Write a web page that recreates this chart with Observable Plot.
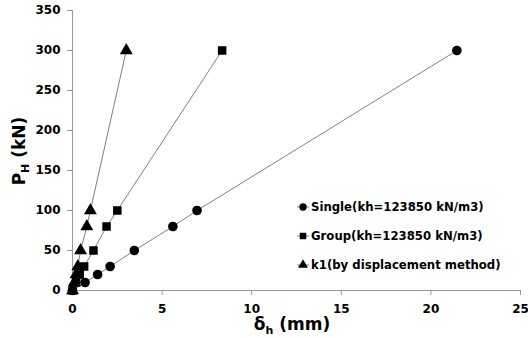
<!DOCTYPE html>
<html>
<head>
<meta charset="utf-8">
<script src="https://cdn.jsdelivr.net/npm/d3@7"></script>
<script src="https://cdn.jsdelivr.net/npm/@observablehq/plot@0.6"></script>
<style>
  html, body { margin: 0; padding: 0; background: #fff; }
  #chart { position: relative; width: 528px; height: 338px; }
</style>
</head>
<body>
<div id="chart"></div>
<script>
// Data
const load   = [0, 10, 20, 30, 50, 80, 100, 300];           // P_H (kN)
const single = [0, 0.7, 1.4, 2.1, 3.45, 5.6, 6.95, 21.45];   // δh (mm)
const group  = [0, 0.2, 0.4, 0.65, 1.17, 1.9, 2.5, 8.35];
const k1     = [0, 0.1, 0.2, 0.3, 0.45, 0.8, 1.0, 3.0];
const seriesNames = ["Single(kh=123850 kN/m3)", "Group(kh=123850 kN/m3)", "k1(by displacement method)"];
const seriesSymbols = ["circle", "square", "triangle"];
const xTicks = [0, 5, 10, 15, 20, 25];
const yTicks = [0, 50, 100, 150, 200, 250, 300, 350];

const seriesVals = [single, group, k1];
const rows = [];
seriesVals.forEach((vals, s) => vals.forEach((d, i) => rows.push({series: seriesNames[s], sym: seriesSymbols[s], d, p: load[i]})));

const plot = Plot.plot({
  width: 528,
  height: 338,
  marginLeft: 72,
  marginRight: 8,
  marginTop: 10,
  marginBottom: 48,
  style: {fontFamily: "'DejaVu Sans', Verdana, sans-serif", fontSize: "12px", fontWeight: "bold", color: "#000", background: "#fff"},
  x: {domain: [0, 25], ticks: xTicks},
  y: {domain: [0, 350], ticks: yTicks},
  symbol: {domain: seriesSymbols, range: seriesSymbols},
  marks: [
    Plot.ruleX([0], {stroke: "#9a9a9a", strokeWidth: 1}),
    Plot.ruleY([0], {stroke: "#9a9a9a", strokeWidth: 1}),
    Plot.axisX({ticks: xTicks, tickSize: 5, tickPadding: 9, stroke: "#9a9a9a", label: null, fill: "#000", fontWeight: "bold", fontSize: 12}),
    Plot.axisY({ticks: yTicks, tickSize: 5, tickPadding: 7, stroke: "#9a9a9a", label: null, fill: "#000", fontWeight: "bold", fontSize: 12}),
    Plot.line(rows, {x: "d", y: "p", z: "series", stroke: "#808080", strokeWidth: 1}),
    Plot.dot(rows, {x: "d", y: "p", symbol: "sym", fill: "#000", stroke: "none", r: 4.8})
  ]
});
document.getElementById("chart").appendChild(plot);

// Axis titles with subscripts
const svg = d3.select(plot);
const yl = svg.append("text")
  .attr("transform", "translate(25,151) rotate(-90)")
  .attr("text-anchor", "middle")
  .attr("font-family", "'DejaVu Sans', Verdana, sans-serif")
  .attr("font-weight", "bold").attr("font-size", 17).attr("fill", "#000");
yl.append("tspan").text("P");
yl.append("tspan").attr("font-size", 11).attr("dy", 4).text("H");
yl.append("tspan").attr("dy", -4).text(" (kN)");

const xl = svg.append("text")
  .attr("x", 292).attr("y", 330)
  .attr("text-anchor", "middle")
  .attr("font-family", "'DejaVu Sans', Verdana, sans-serif")
  .attr("font-weight", "bold").attr("font-size", 17).attr("fill", "#000");
xl.append("tspan").text("δ");
xl.append("tspan").attr("font-size", 11).attr("dy", 4).text("h");
xl.append("tspan").attr("dy", -4).text(" (mm)");

// Legend
const lg = svg.append("g").attr("transform", "translate(303,207)");
seriesNames.forEach((name, i) => {
  const g = lg.append("g").attr("transform", `translate(0,${i * 29})`);
  g.append("line").attr("x1", -6).attr("x2", 6).attr("stroke", "#808080");
  g.append("path").attr("d", d3.symbol(i === 0 ? d3.symbolCircle : i === 1 ? d3.symbolSquare : d3.symbolTriangle, 42)()).attr("fill", "#000");
  g.append("text").attr("x", 8).attr("dy", "0.35em").attr("text-anchor", "start")
    .attr("font-family", "'DejaVu Sans', Verdana, sans-serif")
    .attr("font-weight", "bold").attr("font-size", 11.7).attr("fill", "#000").text(name);
});
</script>
</body>
</html>
